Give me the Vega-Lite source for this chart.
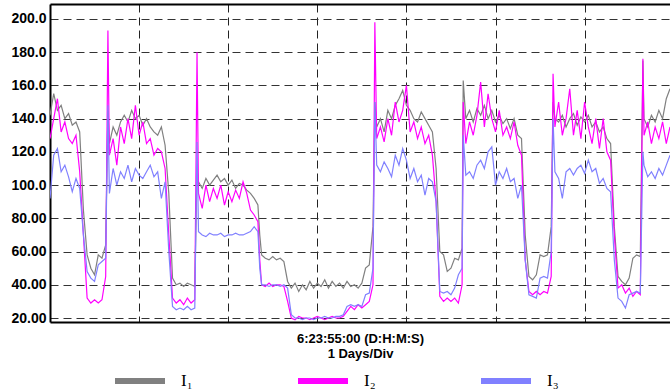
{
  "$schema": "https://vega.github.io/schema/vega-lite/v6.json",
  "width": 620,
  "height": 318,
  "autosize": {"type": "none"},
  "padding": {"left": 50, "top": 4, "right": 0, "bottom": 69},
  "background": "white",
  "config": {"view": {"stroke": null}},
  "data": {"values": [
    {"h":0,"I₁":142,"I₂":128,"I₃":92},
    {"h":1,"I₁":155,"I₂":140,"I₃":118},
    {"h":2,"I₁":145,"I₂":152,"I₃":122},
    {"h":3,"I₁":148,"I₂":132,"I₃":108},
    {"h":4,"I₁":140,"I₂":138,"I₃":112},
    {"h":5,"I₁":143,"I₂":128,"I₃":105},
    {"h":6,"I₁":136,"I₂":125,"I₃":96},
    {"h":7,"I₁":138,"I₂":130,"I₃":104},
    {"h":8,"I₁":132,"I₂":108,"I₃":98},
    {"h":9,"I₁":85,"I₂":70,"I₃":70},
    {"h":10,"I₁":58,"I₂":32,"I₃":48},
    {"h":11,"I₁":50,"I₂":29,"I₃":44},
    {"h":12,"I₁":46,"I₂":31,"I₃":42},
    {"h":13,"I₁":58,"I₂":29,"I₃":52},
    {"h":14,"I₁":56,"I₂":31,"I₃":54},
    {"h":15,"I₁":64,"I₂":45,"I₃":56},
    {"h":15.6,"I₁":145,"I₂":193,"I₃":148},
    {"h":16,"I₁":125,"I₂":118,"I₃":95},
    {"h":17,"I₁":135,"I₂":128,"I₃":110},
    {"h":18,"I₁":130,"I₂":112,"I₃":100},
    {"h":19,"I₁":138,"I₂":135,"I₃":108},
    {"h":20,"I₁":142,"I₂":125,"I₃":104},
    {"h":21,"I₁":138,"I₂":140,"I₃":112},
    {"h":22,"I₁":145,"I₂":128,"I₃":102},
    {"h":23,"I₁":140,"I₂":148,"I₃":110},
    {"h":24,"I₁":142,"I₂":130,"I₃":106},
    {"h":25,"I₁":136,"I₂":138,"I₃":104},
    {"h":26,"I₁":140,"I₂":125,"I₃":108},
    {"h":27,"I₁":135,"I₂":128,"I₃":112},
    {"h":28,"I₁":132,"I₂":118,"I₃":105},
    {"h":29,"I₁":130,"I₂":122,"I₃":108},
    {"h":30,"I₁":135,"I₂":120,"I₃":92},
    {"h":31,"I₁":124,"I₂":110,"I₃":102},
    {"h":32,"I₁":95,"I₂":70,"I₃":60},
    {"h":33,"I₁":44,"I₂":32,"I₃":27},
    {"h":34,"I₁":40,"I₂":29,"I₃":25},
    {"h":35,"I₁":41,"I₂":31,"I₃":26},
    {"h":36,"I₁":39,"I₂":28,"I₃":25},
    {"h":37,"I₁":41,"I₂":32,"I₃":27},
    {"h":38,"I₁":40,"I₂":29,"I₃":25},
    {"h":39,"I₁":39,"I₂":31,"I₃":26},
    {"h":39.6,"I₁":110,"I₂":180,"I₃":126},
    {"h":40,"I₁":102,"I₂":95,"I₃":72},
    {"h":41,"I₁":98,"I₂":86,"I₃":70},
    {"h":42,"I₁":104,"I₂":100,"I₃":69},
    {"h":43,"I₁":100,"I₂":90,"I₃":71},
    {"h":44,"I₁":103,"I₂":98,"I₃":70},
    {"h":45,"I₁":106,"I₂":92,"I₃":70},
    {"h":46,"I₁":102,"I₂":100,"I₃":71},
    {"h":47,"I₁":104,"I₂":88,"I₃":69},
    {"h":48,"I₁":100,"I₂":96,"I₃":70},
    {"h":49,"I₁":103,"I₂":90,"I₃":70},
    {"h":50,"I₁":98,"I₂":97,"I₃":71},
    {"h":51,"I₁":101,"I₂":92,"I₃":70},
    {"h":52,"I₁":100,"I₂":102,"I₃":70},
    {"h":53,"I₁":97,"I₂":95,"I₃":71},
    {"h":54,"I₁":95,"I₂":85,"I₃":72},
    {"h":55,"I₁":92,"I₂":82,"I₃":75},
    {"h":56,"I₁":88,"I₂":78,"I₃":72},
    {"h":56.5,"I₁":70,"I₂":55,"I₃":50},
    {"h":57,"I₁":58,"I₂":40,"I₃":40},
    {"h":58,"I₁":56,"I₂":39,"I₃":40},
    {"h":59,"I₁":55,"I₂":41,"I₃":39},
    {"h":60,"I₁":57,"I₂":39,"I₃":40},
    {"h":61,"I₁":55,"I₂":40,"I₃":40},
    {"h":62,"I₁":56,"I₂":40,"I₃":39},
    {"h":63,"I₁":54,"I₂":39,"I₃":40},
    {"h":64,"I₁":42,"I₂":30,"I₃":38},
    {"h":65,"I₁":38,"I₂":20,"I₃":22},
    {"h":66,"I₁":41,"I₂":19,"I₃":20},
    {"h":67,"I₁":36,"I₂":21,"I₃":20},
    {"h":68,"I₁":40,"I₂":20,"I₃":19},
    {"h":69,"I₁":37,"I₂":20,"I₃":20},
    {"h":70,"I₁":42,"I₂":19,"I₃":20},
    {"h":71,"I₁":38,"I₂":20,"I₃":19},
    {"h":72,"I₁":41,"I₂":21,"I₃":20},
    {"h":73,"I₁":39,"I₂":20,"I₃":20},
    {"h":74,"I₁":43,"I₂":19,"I₃":21},
    {"h":75,"I₁":38,"I₂":20,"I₃":20},
    {"h":76,"I₁":42,"I₂":21,"I₃":20},
    {"h":77,"I₁":39,"I₂":20,"I₃":21},
    {"h":78,"I₁":41,"I₂":20,"I₃":21},
    {"h":79,"I₁":38,"I₂":21,"I₃":22},
    {"h":80,"I₁":42,"I₂":24,"I₃":27},
    {"h":81,"I₁":39,"I₂":27,"I₃":28},
    {"h":82,"I₁":40,"I₂":25,"I₃":27},
    {"h":83,"I₁":38,"I₂":28,"I₃":28},
    {"h":84,"I₁":41,"I₂":26,"I₃":27},
    {"h":85,"I₁":50,"I₂":28,"I₃":34},
    {"h":86,"I₁":52,"I₂":30,"I₃":35},
    {"h":87,"I₁":75,"I₂":40,"I₃":50},
    {"h":87.5,"I₁":150,"I₂":198,"I₃":150},
    {"h":88,"I₁":135,"I₂":128,"I₃":112},
    {"h":89,"I₁":140,"I₂":135,"I₃":108},
    {"h":90,"I₁":132,"I₂":126,"I₃":114},
    {"h":91,"I₁":145,"I₂":140,"I₃":110},
    {"h":92,"I₁":140,"I₂":130,"I₃":105},
    {"h":93,"I₁":148,"I₂":150,"I₃":118},
    {"h":94,"I₁":152,"I₂":138,"I₃":112},
    {"h":95,"I₁":157,"I₂":145,"I₃":122},
    {"h":96,"I₁":148,"I₂":160,"I₃":115},
    {"h":97,"I₁":145,"I₂":132,"I₃":104},
    {"h":98,"I₁":140,"I₂":138,"I₃":110},
    {"h":99,"I₁":138,"I₂":128,"I₃":102},
    {"h":100,"I₁":144,"I₂":135,"I₃":106},
    {"h":101,"I₁":140,"I₂":125,"I₃":94},
    {"h":102,"I₁":136,"I₂":130,"I₃":104},
    {"h":103,"I₁":132,"I₂":118,"I₃":102},
    {"h":104,"I₁":110,"I₂":90,"I₃":90},
    {"h":105,"I₁":60,"I₂":33,"I₃":36},
    {"h":106,"I₁":58,"I₂":30,"I₃":35},
    {"h":107,"I₁":48,"I₂":32,"I₃":36},
    {"h":108,"I₁":50,"I₂":30,"I₃":34},
    {"h":109,"I₁":56,"I₂":32,"I₃":38},
    {"h":110,"I₁":55,"I₂":29,"I₃":46},
    {"h":111,"I₁":62,"I₂":40,"I₃":50},
    {"h":111.3,"I₁":163,"I₂":150,"I₃":130},
    {"h":112,"I₁":140,"I₂":125,"I₃":106},
    {"h":113,"I₁":145,"I₂":138,"I₃":108},
    {"h":114,"I₁":138,"I₂":130,"I₃":104},
    {"h":115,"I₁":146,"I₂":142,"I₃":112},
    {"h":116,"I₁":142,"I₂":162,"I₃":115},
    {"h":117,"I₁":148,"I₂":135,"I₃":110},
    {"h":118,"I₁":140,"I₂":155,"I₃":120},
    {"h":119,"I₁":145,"I₂":140,"I₃":123},
    {"h":120,"I₁":138,"I₂":132,"I₃":100},
    {"h":121,"I₁":142,"I₂":145,"I₃":108},
    {"h":122,"I₁":137,"I₂":130,"I₃":104},
    {"h":123,"I₁":140,"I₂":135,"I₃":110},
    {"h":124,"I₁":134,"I₂":128,"I₃":102},
    {"h":125,"I₁":140,"I₂":138,"I₃":104},
    {"h":126,"I₁":130,"I₂":124,"I₃":92},
    {"h":127,"I₁":128,"I₂":118,"I₃":100},
    {"h":128,"I₁":70,"I₂":55,"I₃":55},
    {"h":129,"I₁":45,"I₂":36,"I₃":34},
    {"h":130,"I₁":43,"I₂":34,"I₃":33},
    {"h":131,"I₁":46,"I₂":36,"I₃":32},
    {"h":132,"I₁":58,"I₂":34,"I₃":44},
    {"h":133,"I₁":57,"I₂":36,"I₃":45},
    {"h":134,"I₁":58,"I₂":35,"I₃":44},
    {"h":135,"I₁":75,"I₂":45,"I₃":60},
    {"h":135.5,"I₁":150,"I₂":167,"I₃":140},
    {"h":136,"I₁":140,"I₂":135,"I₃":108},
    {"h":137,"I₁":138,"I₂":150,"I₃":104},
    {"h":138,"I₁":142,"I₂":130,"I₃":92},
    {"h":139,"I₁":135,"I₂":140,"I₃":108},
    {"h":140,"I₁":140,"I₂":158,"I₃":110},
    {"h":141,"I₁":143,"I₂":130,"I₃":106},
    {"h":142,"I₁":136,"I₂":145,"I₃":110},
    {"h":143,"I₁":141,"I₂":128,"I₃":112},
    {"h":144,"I₁":138,"I₂":150,"I₃":107},
    {"h":145,"I₁":142,"I₂":135,"I₃":115},
    {"h":146,"I₁":135,"I₂":125,"I₃":108},
    {"h":147,"I₁":138,"I₂":140,"I₃":110},
    {"h":148,"I₁":132,"I₂":122,"I₃":101},
    {"h":149,"I₁":135,"I₂":140,"I₃":104},
    {"h":150,"I₁":128,"I₂":120,"I₃":98},
    {"h":151,"I₁":125,"I₂":115,"I₃":96},
    {"h":152,"I₁":75,"I₂":70,"I₃":55},
    {"h":153,"I₁":45,"I₂":38,"I₃":32},
    {"h":154,"I₁":42,"I₂":40,"I₃":30},
    {"h":155,"I₁":40,"I₂":35,"I₃":26},
    {"h":156,"I₁":44,"I₂":38,"I₃":34},
    {"h":157,"I₁":56,"I₂":33,"I₃":35},
    {"h":158,"I₁":58,"I₂":36,"I₃":36},
    {"h":159,"I₁":57,"I₂":34,"I₃":35},
    {"h":159.7,"I₁":175,"I₂":176,"I₃":120},
    {"h":160,"I₁":140,"I₂":130,"I₃":112},
    {"h":161,"I₁":135,"I₂":138,"I₃":105},
    {"h":162,"I₁":142,"I₂":125,"I₃":108},
    {"h":163,"I₁":138,"I₂":135,"I₃":104},
    {"h":164,"I₁":145,"I₂":128,"I₃":110},
    {"h":165,"I₁":140,"I₂":138,"I₃":106},
    {"h":166,"I₁":152,"I₂":125,"I₃":112},
    {"h":167,"I₁":158,"I₂":135,"I₃":118}
  ]},
  "transform": [{"fold": ["I₁", "I₂", "I₃"], "as": ["s", "v"]}],
  "layer": [
    {
      "mark": {"type": "line", "strokeWidth": 1.2, "clip": true},
      "encoding": {
        "x": {
          "field": "h", "type": "quantitative",
          "scale": {"domain": [0, 167], "nice": false, "zero": false},
          "axis": {
            "orient": "bottom",
            "values": [24, 48, 72, 96, 120, 144],
            "labels": false, "ticks": false,
            "domainColor": "black", "domainWidth": 2,
            "grid": true, "gridColor": "#222222", "gridDash": [8, 5], "gridWidth": 1,
            "title": ["6:23:55:00 (D:H:M:S)", "1 Days/Div"],
            "titleFont": "Liberation Sans", "titleFontWeight": "bold", "titleFontSize": 13,
            "titleColor": "black", "titlePadding": 10, "titleLineHeight": 15
          }
        },
        "y": {
          "field": "v", "type": "quantitative",
          "scale": {"domain": [17.6, 209], "nice": false, "zero": false},
          "axis": {
            "values": [20, 40, 60, 80, 100, 120, 140, 160, 180, 200],
            "labelExpr": "datum.value >= 100 ? format(datum.value, '.1f') : format(datum.value, '.2f')",
            "labelFont": "Liberation Sans", "labelFontWeight": "bold", "labelFontSize": 14,
            "labelColor": "black", "labelPadding": 4, "ticks": false,
            "domainColor": "black", "domainWidth": 2,
            "grid": true, "gridColor": "#333333", "gridDash": [8, 5], "gridWidth": 1,
            "title": null
          }
        },
        "color": {
          "field": "s", "type": "nominal",
          "scale": {"domain": ["I₁", "I₂", "I₃"], "range": ["#808080", "#ff00ff", "#8080ff"]},
          "legend": {
            "orient": "none", "legendX": 62, "legendY": 349,
            "direction": "horizontal", "title": null,
            "symbolType": "stroke", "symbolSize": 2500, "symbolStrokeWidth": 6,
            "labelFont": "Liberation Serif", "labelFontSize": 17, "labelColor": "black",
            "labelOffset": 13, "columnPadding": 93
          }
        }
      }
    },
    {
      "mark": {"type": "point", "opacity": 0},
      "encoding": {
        "x": {
          "field": "h", "type": "quantitative",
          "axis": {"orient": "top", "labels": false, "ticks": false, "grid": false,
                   "domainColor": "black", "domainWidth": 2, "title": null}
        }
      }
    }
  ],
  "resolve": {"axis": {"x": "independent"}}
}
